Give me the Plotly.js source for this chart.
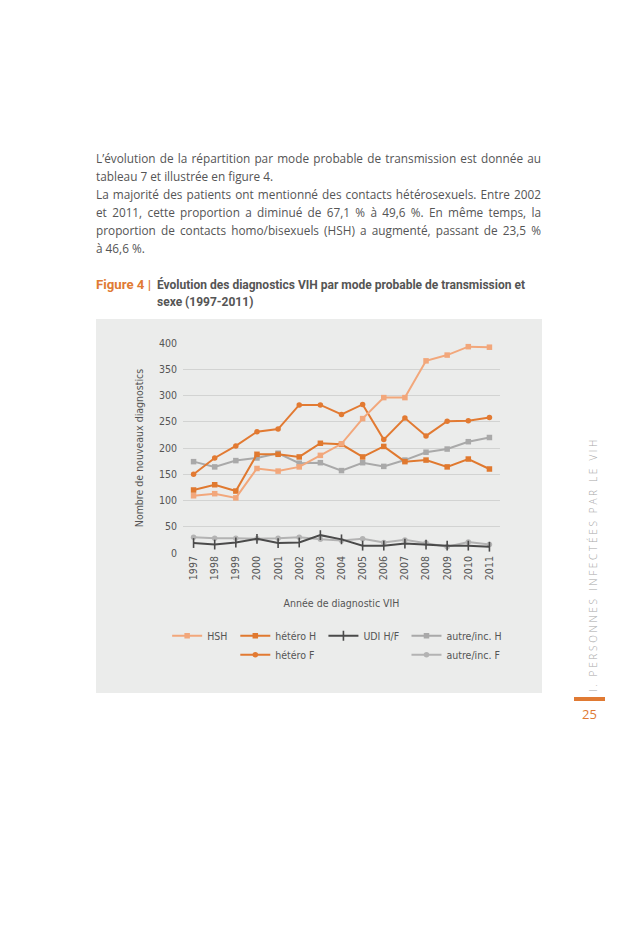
<!DOCTYPE html>
<html>
<head>
<meta charset="utf-8">
<script src="https://cdn.plot.ly/plotly-3.0.1.min.js"></script>
<style>
  html, body { margin: 0; padding: 0; background: #ffffff; }
  body { width: 638px; height: 948px; position: relative; overflow: hidden; }
  .para { position: absolute; left: 96px; top: 149px; width: 445px;
          font-family: "Open Sans", "Noto Sans", sans-serif; font-size: 11.8px; color: #555555; }
  .para .l { display: block; height: 18px; line-height: 18px; white-space: nowrap; }
  .para .j { text-align: justify; text-align-last: justify; white-space: normal; overflow: hidden; }
  .fig { position: absolute; left: 96px; top: 276px; width: 460px;
         font-family: "Roboto", "Open Sans", sans-serif; font-weight: bold;
         font-size: 13px; line-height: 17px; color: #555555; }
  .fig span { position: absolute; white-space: nowrap; transform-origin: 0 0; display: inline-block; }
  .fig .lab { left: 0; top: 0; color: #e07a33; }
  .fig .t1 { left: 61px; top: 0; }
  .fig .t2 { left: 61px; top: 17px; }
  #chart { position: absolute; left: 96px; top: 319px; width: 446px; height: 374px; }
  .side { position: absolute; left: 586px; top: 440px; height: 252px;
          writing-mode: vertical-rl; transform: rotate(180deg);
          font-family: "Open Sans", sans-serif; font-weight: 300; font-size: 10px;
          letter-spacing: 2.7px; color: #a8a8a8; white-space: nowrap; }
  .bar { position: absolute; left: 574px; top: 697px; width: 31px; height: 4px; background: #e07a33; }
  .page { position: absolute; left: 574px; top: 705px; width: 31px; text-align: center;
          font-family: "Open Sans", sans-serif; font-size: 13px; color: #e07a33; }
</style>
</head>
<body>
<div class="para">
  <span class="l j">L’évolution de la répartition par mode probable de transmission est donnée au</span>
  <span class="l">tableau 7 et illustrée en figure 4.</span>
  <span class="l j">La majorité des patients ont mentionné des contacts hétérosexuels. Entre 2002</span>
  <span class="l j">et 2011, cette proportion a diminué de 67,1 % à 49,6 %. En même temps, la</span>
  <span class="l j">proportion de contacts homo/bisexuels (HSH) a augmenté, passant de 23,5 %</span>
  <span class="l">à 46,6 %.</span>
</div>
<div class="fig">
  <span class="lab" data-w="55">Figure 4 |</span>
  <span class="t1" data-w="368">Évolution des diagnostics VIH par mode probable de transmission et</span>
  <span class="t2" data-s="1">sexe (1997-2011)</span>
</div>
<div id="chart"></div>
<div class="side">I. PERSONNES INFECTÉES PAR LE VIH</div>
<div class="bar"></div>
<div class="page">25</div>
<script>
// condense the title text horizontally to the width it takes in the original layout
(function () {
  const t1 = document.querySelector('.fig .t1');
  const k = 368 / t1.getBoundingClientRect().width;
  document.querySelectorAll('.fig span').forEach(function (s) {
    let f = k;
    if (s.dataset.w && s !== t1) f = parseFloat(s.dataset.w) / s.getBoundingClientRect().width;
    s.style.transform = 'scaleX(' + f + ')';
  });
})();

const years = ["1997","1998","1999","2000","2001","2002","2003","2004","2005","2006","2007","2008","2009","2010","2011"];
const hsh      = [109, 113, 105, 161, 156, 164, 186, 208, 256, 296, 296, 366, 377, 393, 392];
const heteroH  = [120, 130, 118, 188, 188, 183, 209, 207, 183, 203, 174, 177, 164, 179, 160];
const heteroF  = [150, 181, 204, 231, 236, 282, 282, 264, 283, 216, 257, 223, 251, 252, 258];
const udi      = [ 19,  16,  20,  27,  19,  20,  34,  26,  14,  14,  18,  16,  14,  14,  12];
const autreH   = [174, 164, 176, 181, 190, 171, 172, 157, 172, 165, 177, 192, 198, 212, 220];
const autreF   = [ 30,  28,  28,  27,  28,  30,  26,  24,  27,  20,  25,  19,  12,  21,  16];
const yTicks   = [0, 50, 100, 150, 200, 250, 300, 350, 400];

const FONT = '"DejaVu Sans Condensed", "Liberation Sans Narrow", sans-serif';
const BG = '#ebeceb';

function tr(name, y, color, symbol, legend, size, mline) {
  return {
    x: years, y: y, name: name, type: 'scatter', mode: 'lines+markers',
    line: {color: color, width: 2},
    marker: {color: color, symbol: symbol, size: size || 5.5,
             line: mline ? {color: color, width: 1.6} : {width: 0}},
    legend: legend, cliponaxis: false
  };
}

const data = [
  tr('autre/inc. F', autreF, '#b3b3b3', 'circle', 'legend4'),
  tr('autre/inc. H', autreH, '#a9a9a9', 'square', 'legend4'),
  tr('UDI H/F', udi, '#4a4a4a', 'line-ns', 'legend3', 7, true),
  tr('hétéro F', heteroF, '#e27a32', 'circle', 'legend2'),
  tr('hétéro H', heteroH, '#e0792f', 'square', 'legend2'),
  tr('HSH', hsh, '#f2a77b', 'square', 'legend')
];

function leg(x) {
  return {x: x, y: -0.325, xanchor: 'left', yanchor: 'top', orientation: 'v',
          bgcolor: 'rgba(0,0,0,0)', traceorder: 'reversed', itemwidth: 30,
          font: {family: FONT, size: 10.5, color: '#555555'}};
}

const layout = {
  width: 446, height: 374,
  margin: {l: 87, r: 42, t: 24, b: 140},
  paper_bgcolor: BG, plot_bgcolor: BG,
  font: {family: FONT, color: '#555555', size: 10.5},
  showlegend: true,
  xaxis: {
    type: 'category', range: [-0.5, 14.5], tickangle: -90,
    showgrid: false, zeroline: false, showline: false, ticks: '',
    tickfont: {family: FONT, size: 10.5, color: '#555555'},
    title: {text: 'Année de diagnostic VIH', font: {family: FONT, size: 10.5, color: '#555555'}, standoff: 20},
    automargin: false
  },
  yaxis: {
    range: [0, 400], tickvals: yTicks, ticktext: yTicks.map(String),
    showgrid: true, gridcolor: '#d2d3d2', gridwidth: 1, zeroline: false, showline: false, ticks: '',
    tickfont: {family: FONT, size: 10.5, color: '#555555'},
    ticklabelstandoff: 5,
    title: {text: 'Nombre de nouveaux diagnostics', font: {family: FONT, size: 10.5, color: '#555555'}, standoff: 13},
    automargin: false
  },
  legend: leg(-0.05),
  legend2: leg(0.165),
  legend3: leg(0.443),
  legend4: leg(0.705)
};

Plotly.newPlot('chart', data, layout, {displayModeBar: false, staticPlot: true});
</script>
</body>
</html>
